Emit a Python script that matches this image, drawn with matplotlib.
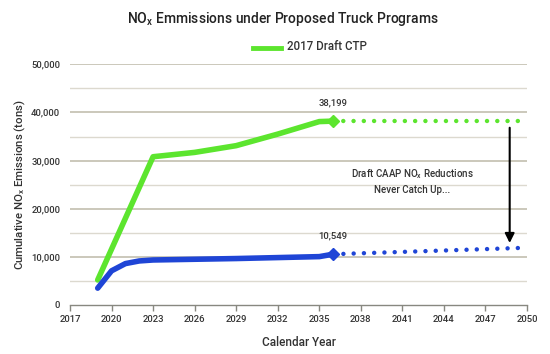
import matplotlib
matplotlib.use("Agg")
import matplotlib.pyplot as plt

plt.rcParams['font.family'] = ['Roboto', 'DejaVu Sans']
plt.rcParams['mathtext.fontset'] = 'custom'
plt.rcParams['mathtext.rm'] = 'Roboto'
plt.rcParams['mathtext.it'] = 'Roboto'

# Data
green_years = [2019, 2023, 2026, 2029, 2032, 2035, 2036]
green_vals = [5200, 30800, 31700, 33100, 35500, 38100, 38199]
green_proj_years = [2036, 2050]
green_proj_vals = [38199, 38199]

blue_years = [2019, 2020, 2021, 2022, 2023, 2029, 2035, 2036]
blue_vals = [3500, 7100, 8600, 9150, 9350, 9650, 10050, 10549]
blue_proj_years = [2036, 2050]
blue_proj_vals = [10549, 11900]

x_ticks = list(range(2017, 2051, 3))
y_ticks = [0, 10000, 20000, 30000, 40000, 50000]
y_minor = [5000, 15000, 25000, 35000, 45000]

GREEN = '#5ce52e'
BLUE = '#1f45d6'
GRID = '#bdb9a8'
TXT = '#333333'

fig = plt.figure(figsize=(5.5, 3.54), dpi=100)
ax = fig.add_axes([70/550, 1-305/354, (527-70)/550, (305-64.3)/354])
ax.set_xlim(2017, 2050)
ax.set_ylim(0, 50000)

for y in y_ticks[1:]:
    ax.axhline(y, color=GRID, lw=1.1, zorder=0)
for y in y_minor:
    ax.axhline(y, color='#dcd9cf', lw=1.0, zorder=0)

ax.plot(green_years, green_vals, color=GREEN, lw=4.0, solid_capstyle='round', solid_joinstyle='round', zorder=3)
ax.plot(blue_years, blue_vals, color=BLUE, lw=4.0, solid_capstyle='round', solid_joinstyle='round', zorder=3)
ax.plot(green_proj_years, green_proj_vals, color=GREEN, lw=3.2, linestyle=(0, (0.01, 2.3)), dash_capstyle='round', zorder=3)
ax.plot(blue_proj_years, blue_proj_vals, color=BLUE, lw=3.2, linestyle=(0, (0.01, 2.3)), dash_capstyle='round', zorder=3)
ax.plot([green_years[-1]], [green_vals[-1]], marker='D', ms=6.5, color=GREEN, zorder=4)
ax.plot([blue_years[-1]], [blue_vals[-1]], marker='D', ms=6.5, color=BLUE, zorder=4)

ax.text(green_years[-1], green_vals[-1] + 2800, f"{green_vals[-1]:,}", ha='center', va='bottom', fontsize=6.8, color=TXT, fontweight='medium')
ax.text(blue_years[-1], blue_vals[-1] + 2800, f"{blue_vals[-1]:,}", ha='center', va='bottom', fontsize=6.8, color=TXT, fontweight='medium')

ax.text(2041.7, 25800, "Draft CAAP NO$_\\mathregular{x}$ Reductions\nNever Catch Up...", ha='center', va='center',
        fontsize=7, color=TXT, linespacing=1.5, fontweight='medium')
ax.annotate("", xy=(2048.75, 12300), xytext=(2048.75, 37400),
            arrowprops=dict(arrowstyle='-|>', color='black', lw=1.5, mutation_scale=14))

for s in ['top', 'right', 'left']:
    ax.spines[s].set_visible(False)
ax.spines['bottom'].set_color('#888880')
ax.spines['bottom'].set_linewidth(1.0)
ax.set_xticks(x_ticks)
ax.set_yticks(y_ticks)
ax.set_yticklabels([f"{v:,}" for v in y_ticks])
ax.tick_params(axis='x', length=4, width=1, color='#888880', labelsize=6.8, labelcolor=TXT, pad=3)
ax.tick_params(axis='y', length=0, labelsize=6.8, labelcolor=TXT, pad=7)
for lbl in ax.get_xticklabels() + ax.get_yticklabels():
    lbl.set_fontweight('medium')

ax.set_xlabel("Calendar Year", fontsize=8.5, color=TXT, labelpad=9, fontweight='medium')
ax.set_ylabel("Cumulative NO$_\\mathregular{x}$ Emissions (tons)", fontsize=8.2, color=TXT, fontweight='medium',
              va='center')
ax.yaxis.set_label_coords((20 - 70) / 457, 0.5)

fig.text(283/550, 1-19/354, "NO$_\\mathregular{x}$ Emmissions under Proposed Truck Programs", ha='center', va='center',
         fontsize=10, color='#222222', fontweight='medium')
fig.lines.append(plt.Line2D([253/550, 281/550], [1-48/354, 1-48/354], color=GREEN, lw=3.5, transform=fig.transFigure))
fig.text(287/550, 1-47/354, "2017 Draft CTP", ha='left', va='center', fontsize=8.3, color=TXT, fontweight='medium')

fig.savefig("out.png", dpi=100)
